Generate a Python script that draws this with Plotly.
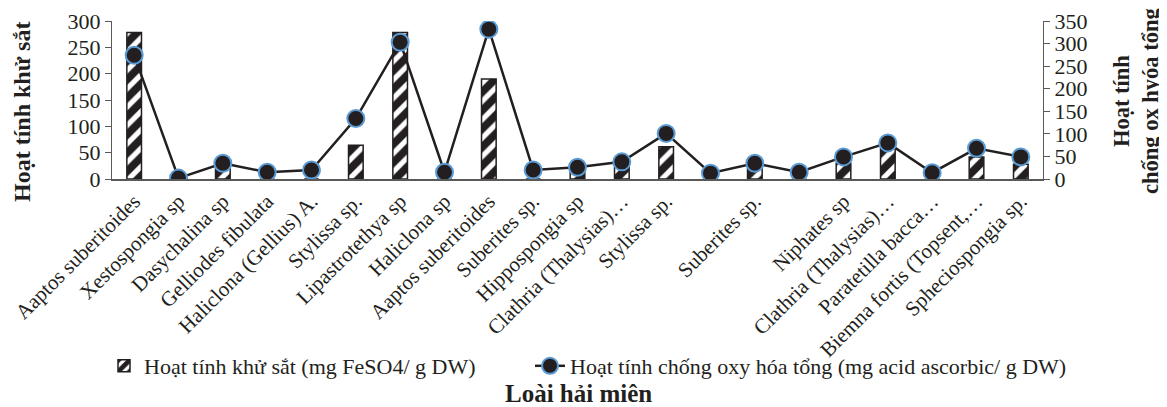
import plotly.graph_objects as go

species = [
    "Aaptos suberitoides", "Xestospongia sp", "Dasychalina sp", "Gelliodes fibulata",
    "Haliclona (Gellius) A.", "Stylissa sp.", "Lipastrotethya sp", "Haliclona sp",
    "Aaptos suberitoides", "Suberites sp.", "Hippospongia sp", "Clathria (Thalysias)…",
    "Stylissa sp.", "", "Suberites sp.", "", "Niphates sp", "Clathria (Thalysias)…",
    "Paratetilla bacca…", "Biemna fortis (Topsent,…", "Spheciospongia sp.",
]
iron_reducing = [278, 0, 25, 0, 0, 64, 278, 0, 190, 0, 15, 25, 61, 0, 20, 0, 30, 60, 0, 42, 28]
total_antiox = [274, 2, 35, 15, 20, 134, 303, 15, 332, 20, 26, 38, 101, 13, 35, 15, 49, 80, 14, 68, 49]

name_bar = "Hoạt tính khử sắt (mg FeSO4/ g DW)"
name_line = "Hoạt tính chống oxy hóa tổng (mg acid ascorbic/ g DW)"
left_title = "Hoạt tính khử sắt"
right_title = "Hoạt tính<br>chống ox hyóa tổng"
x_title = "Loài hải miên"

idx = list(range(len(species)))
FONT = "Liberation Serif"
DARK = "#231f20"

# the page body has an 8px default margin; work in screen pixels and subtract it
OFF = 8
W, H = 1167 - OFF, 407 - OFF
L, R, T, B = 112 - OFF, 1043 - OFF, 21 - OFF, 179 - OFF

def px_x(p):
    return (p - OFF - L) / (R - L)

def px_y(p):
    return (B - (p - OFF)) / (B - T)

fig = go.Figure()
fig.add_trace(go.Bar(
    x=idx, y=iron_reducing, name=name_bar + "\u00a0" * 9, width=0.33,
    marker=dict(color="white", line=dict(color=DARK, width=1.5),
                pattern=dict(shape="/", fgcolor=DARK, bgcolor="white", size=13,
                             solidity=0.6, fgopacity=1)),
))
fig.add_trace(go.Scatter(
    x=idx, y=total_antiox, name=name_line, yaxis="y2", mode="lines+markers",
    line=dict(color=DARK, width=2.5),
    marker=dict(size=17, color=DARK, line=dict(color="#5b9bd5", width=2)),
))

fig.update_layout(
    width=W, height=H,
    margin=dict(l=L, r=W - R, t=T, b=H - B, autoexpand=False),
    paper_bgcolor="white", plot_bgcolor="white",
    font=dict(family=FONT, size=21, color=DARK),
    showlegend=True,
    legend=dict(orientation="h", x=px_x(104), xanchor="left", y=px_y(366), yanchor="middle",
                font=dict(family=FONT, size=22, color=DARK), bgcolor="rgba(0,0,0,0)"),
    xaxis=dict(range=[-0.5, len(species) - 0.5], tickmode="array", tickvals=idx, ticktext=species,
               tickangle=-45, showline=True, linecolor="#595959", linewidth=1.5, ticks="",
               showgrid=False, zeroline=False, automargin=False,
               tickfont=dict(family=FONT, size=21, color=DARK)),
    yaxis=dict(range=[0, 300], dtick=50, showline=True, linecolor="#595959", linewidth=1,
               ticks="outside", ticklen=6, tickcolor="#595959", showgrid=False, zeroline=False,
               automargin=False, tickfont=dict(family=FONT, size=22, color=DARK)),
    yaxis2=dict(range=[0, 350], dtick=50, overlaying="y", side="right", showline=True,
                linecolor="#595959", linewidth=1, ticks="outside", ticklen=6, tickcolor="#595959",
                showgrid=False, zeroline=False, automargin=False,
                tickfont=dict(family=FONT, size=22, color=DARK)),
    annotations=[
        dict(text="<b>" + left_title + "</b>", xref="paper", yref="paper", x=px_x(22), y=px_y(112),
             textangle=-90, showarrow=False, xanchor="center", yanchor="middle",
             font=dict(family=FONT, size=24, color=DARK)),
        dict(text="<b>" + right_title + "</b>", xref="paper", yref="paper", x=px_x(1136), y=px_y(101),
             textangle=-90, showarrow=False, xanchor="center", yanchor="middle",
             font=dict(family=FONT, size=22.5, color=DARK)),
        dict(text="<b>" + x_title + "</b>", xref="paper", yref="paper", x=px_x(578), y=px_y(393),
             showarrow=False, xanchor="center", yanchor="middle",
             font=dict(family=FONT, size=25, color=DARK)),
    ],
)

fig.write_html("out.html")
